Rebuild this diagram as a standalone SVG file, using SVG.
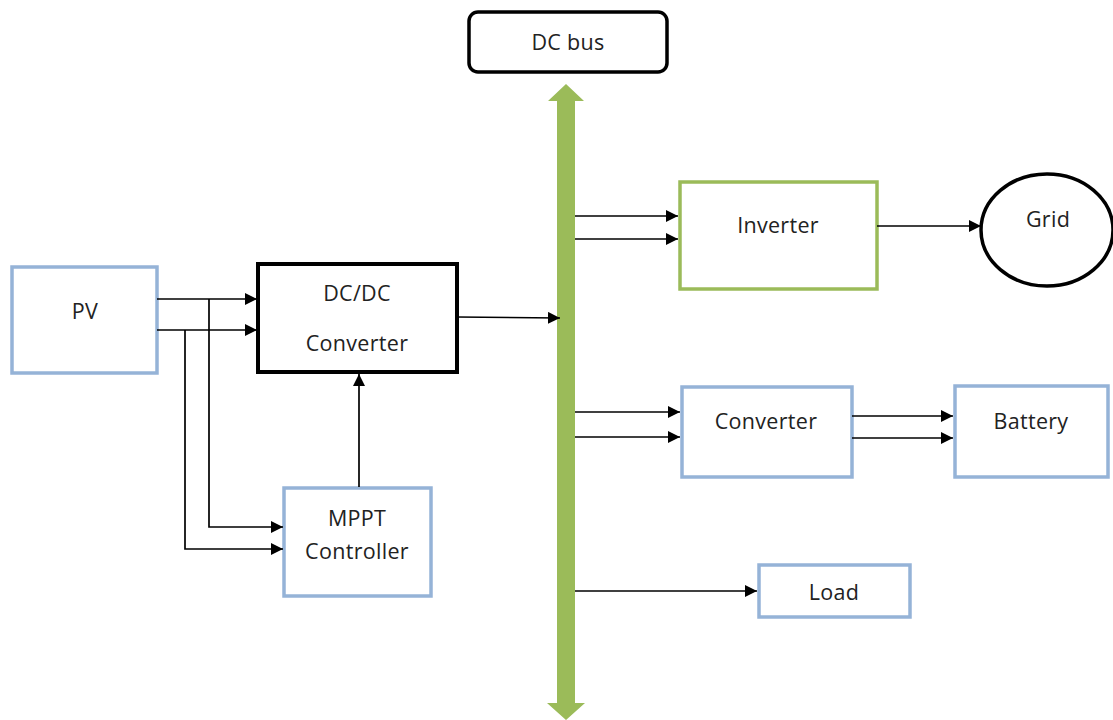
<svg xmlns="http://www.w3.org/2000/svg" width="1113" height="720" viewBox="0 0 1113 720">
  <defs>
    <marker id="arrL" viewBox="0 0 10 10" refX="10" refY="5" markerWidth="12" markerHeight="12" markerUnits="userSpaceOnUse" orient="auto">
      <path d="M0,0 L10,5 L0,10 z" fill="#000"/>
    </marker>
  </defs>
  <style>
    text { font-family: "Open Sans", "DejaVu Sans", sans-serif; font-size: 21.5px; fill: #222; text-anchor: middle; dominant-baseline: central; letter-spacing: 0.3px; }
    .blue { fill: #fff; stroke: #95B3D7; stroke-width: 3.5; }
    .green { fill: #fff; stroke: #9BBB59; stroke-width: 3.5; }
    .black { fill: #fff; stroke: #000; stroke-width: 4; }
    .wire { fill: none; stroke: #000; stroke-width: 1.7; }
  </style>
  <rect width="1113" height="720" fill="#fff"/>

  <!-- DC bus bar with arrowheads at both ends -->
  <g id="bus">
    <polygon points="566,84 584,101 575,101 575,703 585,703 566,720 547,703 557,703 557,101 548,101" fill="#9BBB59"/>
  </g>

  <g id="dcbus-label">
    <rect x="469" y="12" width="198" height="60" rx="9" fill="#fff" stroke="#000" stroke-width="3.5"/>
    <text x="568" y="41" letter-spacing="-0.5">DC bus</text>
  </g>

  <g id="pv">
    <rect class="blue" x="12" y="267" width="145" height="106"/>
    <text x="85" y="310">PV</text>
  </g>

  <g id="dcdc">
    <rect class="black" x="258" y="264" width="199" height="108"/>
    <text x="357" y="292">DC/DC</text>
    <text x="357" y="342">Converter</text>
  </g>

  <g id="mppt">
    <rect class="blue" x="284" y="488" width="147" height="108"/>
    <text x="357" y="517">MPPT</text>
    <text x="357" y="550">Controller</text>
  </g>

  <g id="inverter">
    <rect class="green" x="680" y="182" width="197" height="107"/>
    <text x="778" y="224">Inverter</text>
  </g>

  <g id="grid">
    <ellipse cx="1047" cy="230" rx="66" ry="56" fill="#fff" stroke="#000" stroke-width="3.5"/>
    <text x="1048" y="218">Grid</text>
  </g>

  <g id="converter">
    <rect class="blue" x="682" y="387" width="170" height="90"/>
    <text x="766" y="420">Converter</text>
  </g>

  <g id="battery">
    <rect class="blue" x="955" y="386" width="153" height="91"/>
    <text x="1031" y="420">Battery</text>
  </g>

  <g id="load">
    <rect class="blue" x="759" y="565" width="151" height="52"/>
    <text x="834" y="591">Load</text>
  </g>

  <g id="connectors">
    <!-- PV to DC/DC -->
    <line class="wire" x1="157" y1="299" x2="257" y2="299" marker-end="url(#arrL)"/>
    <line class="wire" x1="157" y1="330" x2="257" y2="330" marker-end="url(#arrL)"/>
    <!-- PV sensing to MPPT -->
    <polyline class="wire" points="209,299 209,527 283,527" marker-end="url(#arrL)"/>
    <polyline class="wire" points="185,330 185,549 283,549" marker-end="url(#arrL)"/>
    <!-- MPPT to DC/DC -->
    <line class="wire" x1="359" y1="487" x2="359" y2="374" marker-end="url(#arrL)"/>
    <!-- DC/DC to bus -->
    <line class="wire" x1="457" y1="317" x2="560" y2="318" marker-end="url(#arrL)"/>
    <!-- bus to inverter -->
    <line class="wire" x1="575" y1="216" x2="678" y2="216" marker-end="url(#arrL)"/>
    <line class="wire" x1="575" y1="239" x2="678" y2="239" marker-end="url(#arrL)"/>
    <!-- inverter to grid -->
    <line class="wire" x1="877" y1="226" x2="981" y2="226" marker-end="url(#arrL)"/>
    <!-- bus to converter -->
    <line class="wire" x1="575" y1="412" x2="680" y2="412" marker-end="url(#arrL)"/>
    <line class="wire" x1="575" y1="437" x2="680" y2="437" marker-end="url(#arrL)"/>
    <!-- converter to battery -->
    <line class="wire" x1="852" y1="416" x2="953" y2="416" marker-end="url(#arrL)"/>
    <line class="wire" x1="852" y1="438" x2="953" y2="438" marker-end="url(#arrL)"/>
    <!-- bus to load -->
    <line class="wire" x1="575" y1="591" x2="757" y2="591" marker-end="url(#arrL)"/>
  </g>
</svg>
